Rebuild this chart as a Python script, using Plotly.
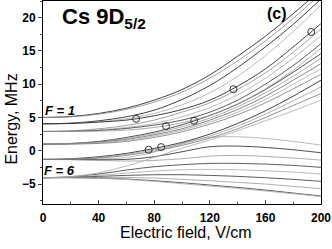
import plotly.graph_objects as go

field = [0, 20, 40, 60, 80, 100, 120, 140, 160, 180, 200]

# upper family (from F = 1, 2, 3)
upper_curves = [
    [5.0, 5.15, 5.6, 6.4, 7.6, 9.2, 11.4, 14.2, 17.2, 20.6, 24.2],
    [5.0, 5.1, 5.5, 6.2, 7.3, 8.8, 10.9, 13.5, 16.5, 19.9, 23.6],
    [4.05, 4.15, 4.5, 5.1, 6.1, 7.7, 9.8, 12.5, 15.6, 19.0, 22.8],
    [4.05, 4.12, 4.35, 4.8, 5.6, 6.9, 8.7, 11.2, 14.3, 17.9, 21.9],
    [4.05, 4.1, 4.3, 4.6, 5.25, 6.2, 7.6, 9.7, 12.3, 15.6, 19.1],
    [2.9, 3.0, 3.3, 3.8, 4.6, 5.8, 7.2, 9.2, 11.7, 14.8, 18.3],
    [2.9, 2.95, 3.15, 3.5, 4.1, 5.1, 6.5, 8.4, 10.9, 13.9, 17.3],
    [2.9, 2.92, 3.05, 3.35, 3.85, 4.6, 5.8, 7.6, 10.0, 12.8, 16.1],
    [2.9, 2.9, 2.95, 3.1, 3.5, 4.2, 5.3, 7.0, 9.3, 12.1, 15.4],
]
upper_colors = ["#111", "#888", "#111", "#aaa", "#111", "#888", "#aaa", "#333", "#999"]

# middle bundle (from F = 4, 5, 6)
middle_curves = [
    [1.0, 1.1, 1.4, 2.0, 2.8, 3.9, 5.3, 7.0, 9.2, 11.8, 14.6],
    [1.0, 1.08, 1.35, 1.85, 2.6, 3.6, 4.9, 6.6, 8.7, 11.2, 13.9],
    [1.0, 1.05, 1.3, 1.7, 2.4, 3.3, 4.6, 6.2, 8.2, 10.6, 13.1],
    [1.0, 1.03, 1.2, 1.55, 2.2, 3.1, 4.3, 5.8, 7.7, 10.0, 12.3],
    [1.0, 1.0, 1.1, 1.4, 2.0, 2.85, 4.0, 5.4, 7.2, 9.3, 11.5],
    [-1.3, -1.2, -0.9, -0.4, 0.35, 1.25, 2.5, 4.1, 6.0, 8.2, 10.6],
    [-1.3, -1.25, -1.0, -0.55, 0.15, 1.0, 2.2, 3.7, 5.5, 7.5, 9.6],
    [-1.3, -1.28, -1.1, -0.7, -0.05, 0.8, 1.9, 3.3, 5.0, 6.8, 8.6],
    [-4.05, -3.9, -3.3, -2.3, -1.0, 0.4, 1.6, 3.0, 4.5, 6.0, 7.6],
]
middle_colors = ["#222", "#999", "#666", "#aaa", "#777", "#111", "#999", "#777", "#aaa"]

# lower family (from F = 5, 6)
lower_curves = [
    [-1.3, -1.3, -1.25, -1.0, -0.2, 1.1, 2.0, 2.1, 1.85, 1.4, 0.85],
    [-1.3, -1.32, -1.35, -1.3, -0.9, -0.15, 0.6, 0.7, 0.5, 0.15, -0.3],
    [-1.3, -1.35, -1.45, -1.55, -1.45, -1.2, -0.8, -0.7, -0.85, -1.1, -1.4],
    [-4.05, -3.9, -3.5, -2.9, -2.4, -2.1, -1.9, -1.9, -2.0, -2.2, -2.5],
    [-4.05, -3.95, -3.7, -3.35, -3.05, -2.85, -2.8, -2.85, -3.0, -3.2, -3.5],
    [-4.05, -4.0, -3.85, -3.7, -3.6, -3.6, -3.7, -3.85, -4.05, -4.3, -4.6],
    [-4.05, -4.02, -4.0, -4.0, -4.1, -4.3, -4.5, -4.75, -5.0, -5.35, -5.7],
    [-4.05, -4.05, -4.1, -4.25, -4.5, -4.8, -5.15, -5.5, -5.9, -6.35, -6.8],
    [-4.05, -4.05, -4.12, -4.3, -4.6, -4.95, -5.3, -5.65, -6.05, -6.45, -6.9],
]
lower_colors = ["#aaa", "#222", "#999", "#333", "#aaa", "#333", "#999", "#333", "#aaa"]

circle_field = [67, 76, 85, 88.5, 108.7, 137, 193]
circle_energy = [4.8, 0.15, 0.55, 3.7, 4.5, 9.25, 17.85]

x_ticks = [0, 40, 80, 120, 160, 200]
y_ticks = [-5, 0, 5, 10, 15, 20]

fig = go.Figure()
for curves, colors in ((lower_curves, lower_colors), (middle_curves, middle_colors), (upper_curves, upper_colors)):
    for ys, c in zip(curves, colors):
        fig.add_trace(go.Scatter(x=field, y=ys, mode="lines",
                                 line=dict(color=c, width=0.8, shape="spline", smoothing=1.0),
                                 hoverinfo="skip", showlegend=False))

fig.add_trace(go.Scatter(x=circle_field, y=circle_energy, mode="markers",
                         marker=dict(symbol="circle-open", size=7, color="#333", line=dict(width=1)),
                         hoverinfo="skip", showlegend=False))

font_main = "Liberation Sans, Arial, sans-serif"
fig.update_layout(
    width=332, height=249,
    margin=dict(l=43, r=11, t=1, b=45, autoexpand=False),
    paper_bgcolor="white", plot_bgcolor="white",
    font=dict(family=font_main, color="black"),
    xaxis=dict(range=[0, 200], tickvals=x_ticks, ticks="inside", ticklen=4, tickwidth=1,
               minor=dict(ticks="inside", ticklen=2.5, dtick=20, tick0=0),
               showline=True, linecolor="black", linewidth=1, mirror=True,
               showgrid=False, zeroline=False, automargin=False,
               ticklabeloverflow="allow", ticklabelstandoff=3,
               tickfont=dict(size=12, weight="bold")),
    yaxis=dict(range=[-8, 22.5], tickvals=y_ticks, ticks="outside", ticklen=4, tickwidth=1,
               minor=dict(ticks="outside", ticklen=2.5, dtick=2.5, tick0=0),
               showline=True, linecolor="black", linewidth=1, mirror=True,
               showgrid=False, zeroline=False, automargin=False,
               ticklabeloverflow="allow",
               tickfont=dict(size=12, weight="bold")),
    annotations=[
        dict(x=0.514, y=-0.14, xref="paper", yref="paper", xanchor="center", yanchor="middle",
             text="Electric field, V/cm", showarrow=False, font=dict(size=16)),
        dict(x=-0.112, y=0.42, xref="paper", yref="paper", xanchor="center", yanchor="middle",
             text="Energy, MHz", textangle=-90, showarrow=False, font=dict(size=16)),
        dict(x=12, y=6.1, xref="x", yref="y", text="<i>F = 1</i>", showarrow=False,
             font=dict(size=13, weight="bold")),
        dict(x=12, y=-2.9, xref="x", yref="y", text="<i>F = 6</i>", showarrow=False,
             font=dict(size=13, weight="bold")),
        dict(x=0.06, y=0.995, xref="paper", yref="paper", xanchor="left", yanchor="top",
             text="Cs 9D<sub>5/2</sub>", showarrow=False, font=dict(size=22, weight="bold")),
        dict(x=0.84, y=0.99, xref="paper", yref="paper", xanchor="center", yanchor="top",
             text="(c)", showarrow=False, font=dict(size=16, weight="bold")),
    ],
)

fig.write_html("out.html", config={"displayModeBar": False},
               post_script="document.body.style.margin='0';")
